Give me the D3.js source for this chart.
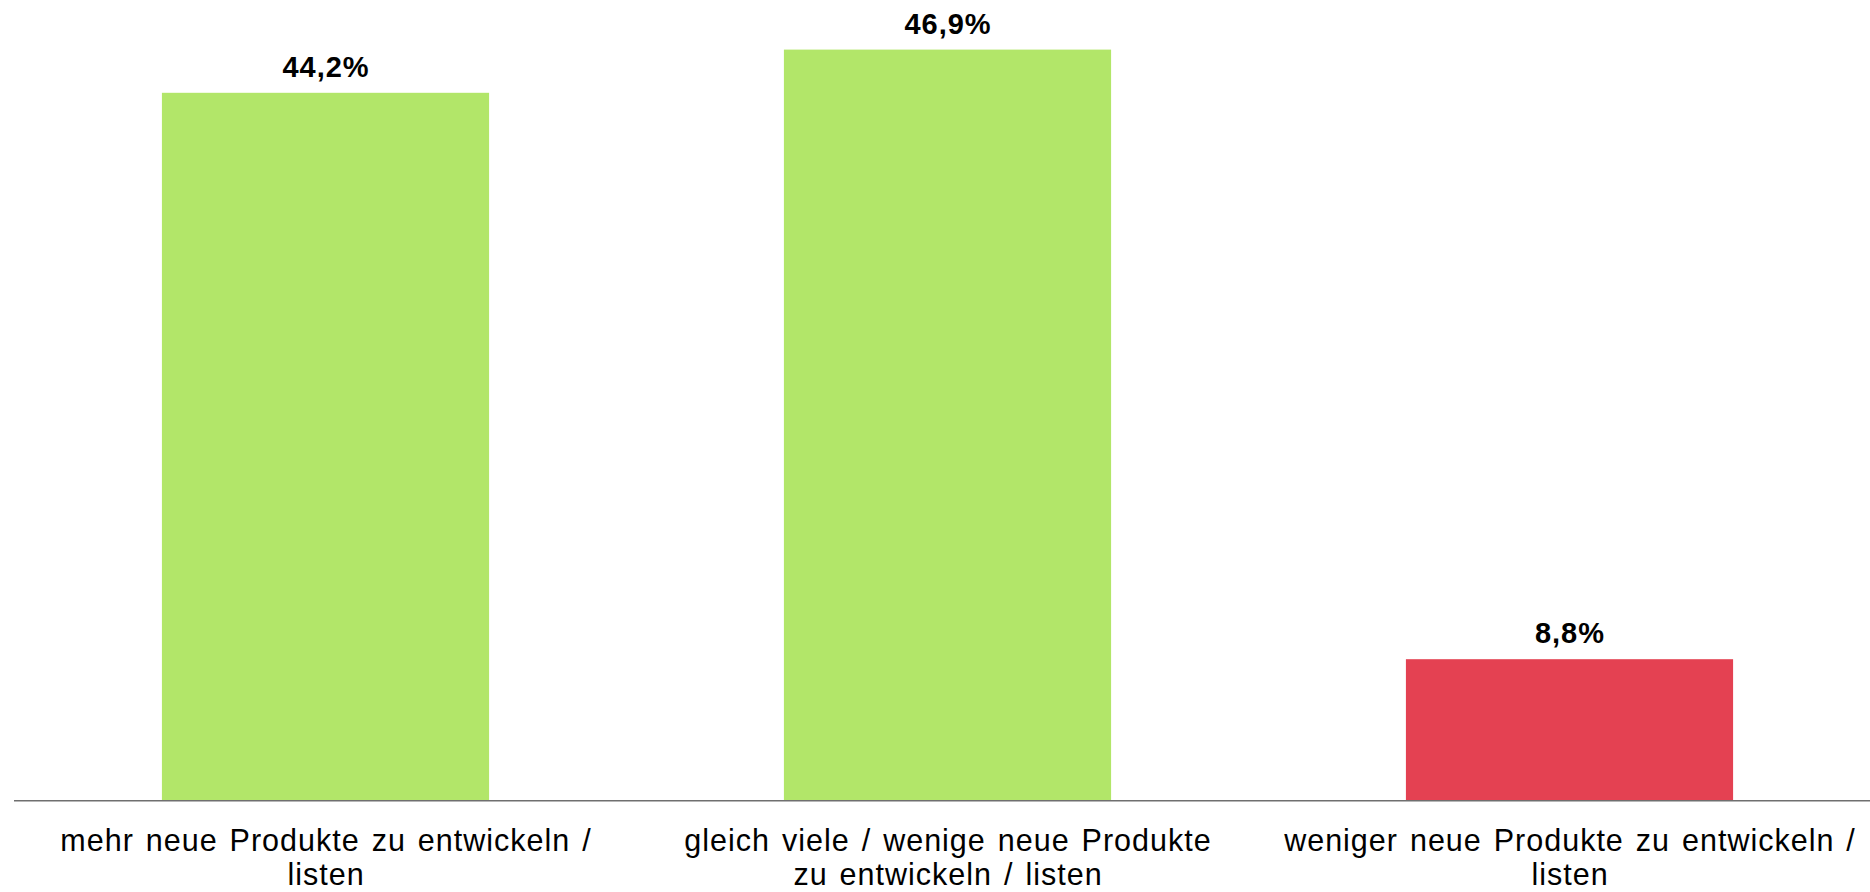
<!DOCTYPE html>
<html>
<head>
<meta charset="utf-8">
<script src="https://cdn.jsdelivr.net/npm/d3@7"></script>
<style>
  html, body { margin: 0; padding: 0; background: #ffffff; }
  svg { display: block; }
</style>
</head>
<body>
<svg id="chart" width="1870" height="892"></svg>
<script>
const categories = ["mehr", "gleich", "weniger"];
const categoryLines = [
  ["mehr neue Produkte zu entwickeln /", "listen"],
  ["gleich viele / wenige neue Produkte", "zu entwickeln / listen"],
  ["weniger neue Produkte zu entwickeln /", "listen"]
];
const values = [44.2, 46.9, 8.8];
const barColors = ["#b2e669", "#b2e669", "#e44152"];
const yDomain = [0, 50];

const svg = d3.select("#chart");
const W = 1870, baseY = 800;

const x = d3.scaleBand()
  .domain(categories)
  .range([14.5, 1880.5])
  .paddingInner(0.474)
  .paddingOuter(0.237);

const y = d3.scaleLinear().domain(yDomain).range([baseY, 0]);

const fmt = v => d3.format(".1f")(v).replace(".", ",") + "%";

// bars
svg.append("g").selectAll("rect")
  .data(values)
  .join("rect")
  .attr("x", (d, i) => x(categories[i]))
  .attr("width", x.bandwidth())
  .attr("y", d => y(d))
  .attr("height", d => y(0) - y(d))
  .attr("fill", (d, i) => barColors[i]);

// value labels
svg.append("g").selectAll("text")
  .data(values)
  .join("text")
  .attr("x", (d, i) => x(categories[i]) + x.bandwidth() / 2 + 0.5)
  .attr("y", d => y(d) - 16)
  .attr("text-anchor", "middle")
  .attr("font-family", "'Liberation Sans', Arial, sans-serif")
  .attr("font-weight", "bold")
  .attr("font-size", "29px")
  .attr("letter-spacing", "1px")
  .attr("fill", "#000")
  .text(d => fmt(d));

// x axis
const axis = d3.axisBottom(x).tickSize(0).tickFormat("");
const gx = svg.append("g").attr("transform", `translate(0,${baseY})`).call(axis);
gx.select(".domain").remove();
gx.append("line")
  .attr("x1", 14).attr("x2", W)
  .attr("y1", 0.75).attr("y2", 0.75)
  .attr("stroke", "#6f6f6f")
  .attr("stroke-width", 1.5);

// category labels
const lab = svg.append("g").selectAll("text")
  .data(categories)
  .join("text")
  .attr("text-anchor", "middle")
  .attr("font-family", "'Liberation Sans', Arial, sans-serif")
  .attr("font-size", "30.5px")
  .attr("letter-spacing", "1px")
  .attr("word-spacing", "2.5px")
  .attr("fill", "#000");

lab.each(function(c, i) {
  const t = d3.select(this);
  const cx = x(c) + x.bandwidth() / 2 + 0.5;
  categoryLines[i].forEach((line, j) => {
    t.append("tspan")
      .attr("x", cx)
      .attr("y", 850.7 + j * 34.3)
      .text(line);
  });
});
</script>
</body>
</html>
